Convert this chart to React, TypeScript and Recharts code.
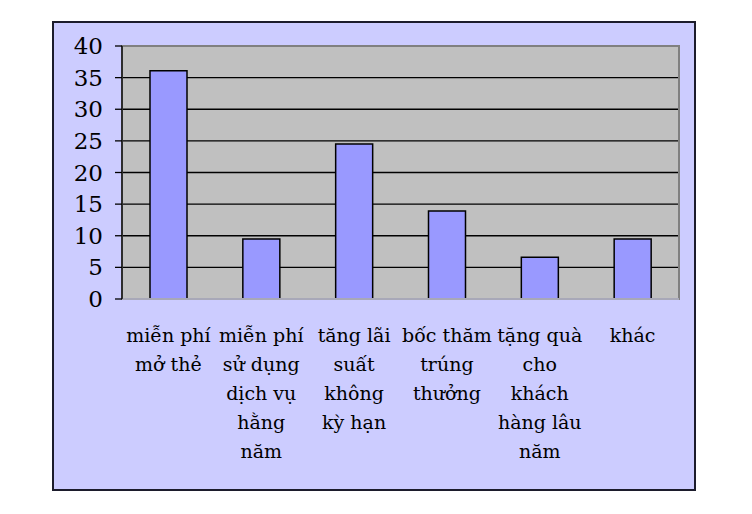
import React from "react";
import { BarChart, Bar, XAxis, YAxis, CartesianGrid, ReferenceArea } from "recharts";

const categories = [
  "miễn phí\nmở thẻ",
  "miễn phí\nsử dụng\ndịch vụ\nhằng\nnăm",
  "tăng lãi\nsuất\nkhông\nkỳ hạn",
  "bốc thăm\ntrúng\nthưởng",
  "tặng quà\ncho\nkhách\nhàng lâu\nnăm",
  "khác",
];
const values = [36.1, 9.5, 24.5, 13.9, 6.6, 9.5];
const yTicks = [0, 5, 10, 15, 20, 25, 30, 35, 40];

const data = categories.map((c, i) => ({ name: c, value: values[i] }));

const FONT = "'DejaVu Serif'";

const CatTick = (props: any) => {
  const { x, y, payload } = props;
  const lines = String(payload.value).split("\n");
  return (
    <text x={x} y={y} textAnchor="middle" style={{ fontFamily: FONT, fontSize: 19 }} fill="#000">
      {lines.map((l, i) => (
        <tspan key={i} x={x} y={y + 35 + i * 29}>
          {l}
        </tspan>
      ))}
    </text>
  );
};

const NumTick = (props: any) => {
  const { x, y, payload } = props;
  return (
    <text x={x} y={y} dy={8} textAnchor="end" style={{ fontFamily: FONT, fontSize: 23 }} fill="#000">
      {payload.value}
    </text>
  );
};

export default function App() {
  return (
    <div
      style={{
        position: "absolute",
        left: 52,
        top: 21,
        width: 640,
        height: 466,
        background: "#ccccff",
        border: "2px solid #1c1c2c",
      }}
    >
      <BarChart
        width={640}
        height={466}
        data={data}
        margin={{ top: 23, right: 15, bottom: 40, left: 8 }}
        barCategoryGap={0}
      >
        <CartesianGrid vertical={false} stroke="#000" strokeWidth={1.3} fill="#c0c0c0" fillOpacity={1} />
        <ReferenceArea y1={0} y2={40} fill="none" stroke="#808080" strokeWidth={2} ifOverflow="visible" />
        <XAxis
          dataKey="name"
          axisLine={{ stroke: "#a8a8b8", strokeWidth: 2 }}
          tickLine={false}
          tick={<CatTick />}
          interval={0}
          height={150}
        />
        <YAxis
          domain={[0, 40]}
          ticks={yTicks}
          width={60}
          axisLine={{ stroke: "#000", strokeWidth: 1.3 }}
          tickLine={{ stroke: "#000", strokeWidth: 1.3 }}
          tickSize={7}
          tickMargin={12}
          tick={<NumTick />}
          interval={0}
        />
        <Bar dataKey="value" fill="#9999ff" stroke="#000" strokeWidth={1.5} barSize={37} isAnimationActive={false} />
      </BarChart>
    </div>
  );
}
